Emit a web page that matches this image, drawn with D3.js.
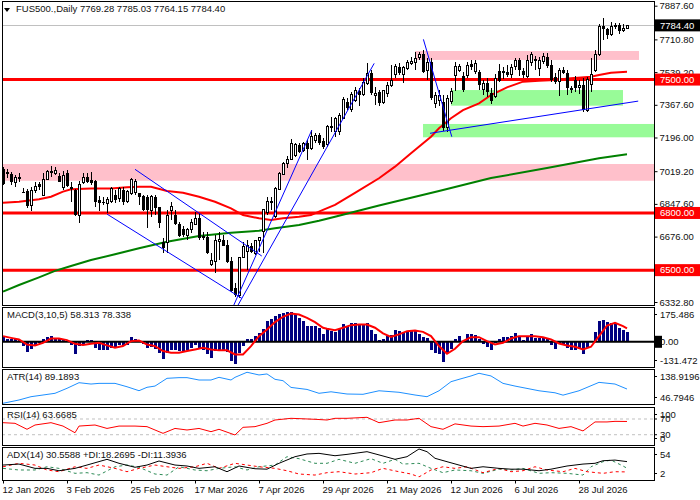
<!DOCTYPE html>
<html>
<head>
<meta charset="utf-8">
<script src="https://cdn.jsdelivr.net/npm/d3@7"></script>
<style>
  body { margin: 0; background: #fff; }
  svg { display: block; }
  text { font-family: "Liberation Sans", Arial, sans-serif; font-size: 9.5px; fill: #111; }
</style>
</head>
<body>
<svg width="700" height="500"></svg>
<script>
// ---- data (bar index 0 = 12 Jan 2026) ----
var opens = [7030,7016,7004,6958,6990,6912,6917,6838,6920,6950, 6894,6977,7020,7008,6994,6935,7009,6938,6920,6789,
  6958,6987,6973,6967,6868,6859,6850,6859,6894,6877, 6920,6859,6903,6906,6903,6889,6885,6815,6882,6829,
  6649,6644,6815,6789,6742,6716,6681,6711,6742,6773, 6681,6675,6527,6544,6649,6658,6632,6549,6405,6369,
  6567,6596,6627,6585,6654,6701,6801,6864,6780,6924, 7004,7057,7081,7104,7157,7130,7168,7139,7179,7209,
  7179,7157,7252,7230,7226,7297,7384,7344,7389,7440, 7424,7480,7533,7414,7436,7378,7428,7468,7524,7567,
  7524,7559,7585,7590,7616,7634,7545,7593,7372,7389, 7383,7246,7383,7520,7550,7519,7519,7582,7541,7541,
  7448,7483,7431,7410,7545,7545,7541,7529,7567,7602, 7545,7518,7588,7607,7559,7593,7617,7576,7515,7489,
  7550,7536,7454,7497,7459,7471,7340,7476,7550,7634, 7781,7763,7739,7786,7786,7760,7769.28];
var highs = [7041,7030,7016,6999,7008,6929,6925,6937,6964,6962, 7008,7025,7046,7040,7011,7022,7025,6964,6925,6969,
  7008,7008,7013,6975,6889,6885,6885,6938,6920,6938, 6938,6920,6983,6977,6906,6894,6894,6894,6894,6832,
  6668,6815,6856,6815,6752,6731,6721,6768,6807,6798, 6700,6701,6588,6684,6701,6684,6658,6571,6431,6571,
  6649,6658,6641,6658,6675,6821,6885,6885,6938,7015, 7067,7099,7186,7167,7165,7174,7183,7235,7219,7218,
  7193,7261,7304,7302,7324,7408,7403,7434,7461,7454, 7508,7586,7550,7463,7445,7445,7487,7576,7582,7587,
  7571,7602,7618,7644,7644,7655,7613,7613,7434,7445, 7419,7419,7455,7592,7582,7539,7592,7602,7602,7550,
  7497,7508,7456,7529,7582,7566,7576,7582,7613,7613, 7560,7629,7644,7623,7618,7639,7639,7602,7534,7560,
  7566,7550,7466,7518,7497,7508,7513,7613,7655,7791, 7823,7770,7802,7797,7797,7791,7785.03];
var lows = [6946,6983,6945,6937,6964,6903,6826,6812,6903,6920, 6894,6972,6990,6999,6964,6920,6937,6860,6784,6749,
  6952,6956,6946,6833,6810,6841,6798,6854,6850,6859, 6841,6852,6894,6894,6841,6810,6720,6780,6789,6720,
  6589,6589,6763,6737,6674,6674,6658,6695,6737,6658, 6658,6585,6520,6487,6553,6625,6536,6385,6361,6352,
  6562,6500,6590,6579,6597,6588,6789,6815,6773,6920, 6999,7036,7078,7094,7115,7120,7078,7130,7167,7157,
  7136,7146,7225,7200,7209,7292,7340,7330,7382,7361, 7414,7471,7419,7366,7361,7372,7408,7461,7508,7524,
  7482,7550,7576,7550,7602,7534,7500,7393,7350,7361, 7230,7225,7372,7440,7540,7434,7508,7550,7529,7445,
  7419,7408,7372,7403,7487,7503,7513,7508,7550,7518, 7508,7508,7571,7550,7518,7581,7561,7487,7477,7414,
  7530,7419,7429,7434,7424,7330,7330,7434,7539,7623, 7707,7712,7728,7765,7739,7750,7764.15];
var closes = [6952,7002,6964,6988,6977,6908,6838,6920,6941,6938, 6977,7015,7008,7025,6964,6999,6941,6926,6789,6951,
  6988,6964,6958,6859,6850,6850,6871,6930,6868,6930, 6859,6912,6977,6967,6882,6815,6815,6885,6824,6745,
  6614,6786,6836,6742,6681,6684,6711,6749,6773,6667, 6667,6588,6550,6654,6663,6627,6544,6392,6369,6567,
  6623,6627,6596,6653,6669,6819,6859,6851,6930,7008, 7060,7083,7165,7157,7121,7165,7134,7200,7209,7169,
  7144,7252,7256,7296,7314,7393,7349,7424,7440,7419, 7483,7533,7429,7429,7375,7440,7471,7494,7571,7536,
  7562,7588,7597,7611,7634,7541,7590,7401,7419,7419, 7246,7401,7435,7567,7567,7445,7576,7567,7585,7471,
  7480,7436,7389,7506,7494,7533,7524,7562,7602,7550, 7524,7599,7629,7599,7599,7620,7571,7497,7489,7545,
  7536,7454,7445,7454,7469,7340,7501,7524,7634,7781, 7763,7734,7781,7777,7756,7769,7784.40];

// moving averages read at selected bars
var maFastBars = [0,4,9,12,15,17,22,27,31,34,37,41,45,49,53,57,60,64,67,70,74,77,80,83,88,94,98,102,107,109,112,115,119,122,126,130,134,138,142,147,149,152,156];
var maFast = [6854,6859,6872,6885,6912,6924,6929,6929,6935,6938,6938,6915,6906,6885,6859,6824,6789,6772,6763,6772,6780,6789,6816,6842,6905,6982,7043,7113,7200,7244,7297,7340,7375,7419,7459,7489,7494,7498,7507,7515,7524,7536,7541];
var maSlowBars = [0,4,9,13,17,22,28,34,41,49,57,64,68,74,79,83,94,109,122,136,149,156];
var maSlow = [6387,6422,6462,6496,6522,6553,6583,6615,6649,6679,6696,6707,6720,6737,6759,6780,6839,6915,6983,7036,7087,7108];

// horizontal levels, zones (bar range / price range) and trend lines
var levels = [7500, 6800, 6500];
var zoneBars = [[-1,163],[103,159],[112,155],[105,163]];
var zonePrices = [[6969,7057],[7603,7650],[7363,7445],[7197,7267]];
var zoneKinds = ["resistance","resistance","support","support"];
var trendBars = [[33,64.7],[26,59.7],[57.5,77.2],[58.5,92.8],[105.1,112.2],[106.75,158.8]];
var trendPrices = [[7029,6574],[6794,6352],[6307,7235],[6307,7585],[7711,7200],[7218,7387]];

var priceTicks = [7887.6,7710.8,7539.2,7367.6,7196.0,7019.2,6847.6,6676.0,6504.4,6332.8];
var lastPrice = 7784.40;
var dateBars = [0,16,32,48,64,80,96,112,128,144];
var dateLabels = ["12 Jan 2026","3 Feb 2026","25 Feb 2026","17 Mar 2026","7 Apr 2026","29 Apr 2026","21 May 2026","12 Jun 2026","6 Jul 2026","28 Jul 2026"];

// MACD(3,10,5): histogram per bar, signal line read at selected bars
var macdHist = [33,17,14,14,10,-25,-58,-41,-21,-6, 14,27,33,21,14,17,6,-21,-74,-25,
  -10,12,12,-35,-50,-50,-45,-35,-35,-21, -25,-16,27,14,-4,-10,-35,-29,-41,-64,
  -103,-68,-45,-45,-54,-54,-50,-35,-21,-35, -45,-74,-93,-54,-45,-48,-60,-113,-131.5,-64,
  -25,14,14,33,52,72,120,134,153,165, 169,173,175.5,165,140,120,95,95,91,82,
  43,72,62,56,72,101,91,107,111,101, 101,111,68,43,10,19,33,37,68,62,
  56,62,62,62,43,29,23,-45,-64,-74, -118,-64,-41,19,33,0,43,43,37,14,
  -10,-29,-50,-6,19,27,27,33,49,33, 8,29,43,23,23,29,14,-21,-41,-10,
  -16,-35,-45,-45,-35,-74,-35,-2,56,120, 130,115,107,101,82,68,58.313];
var macdSigBars = [0,2,4,6,8,10,12,14,16,18,20,22,24,26,28,30,32,34,36,38,40,42,44,46,48,50,52,54,56,58,60,62,64,66,68,70,72,74,76,78,80,
  81,83,85,87,89,91,93,95,97,99,101,103,105,107,109,111,113,115,117,119,121,123,125,127,129,131,133,135,137,139,141,143,145,147,149,151,153,155,156];
var macdSig = [33,23,14,-16,-21,-6,19,19,10,-12,-19,-12,-6,-21,-35,-25,4,8,-16,-25,-54,-64,-64,-54,-45,-35,-45,-50,-50,-74,-74,-25,33,72,115,146,165,159,140,115,82,
  76,68,82,97,101,101,82,49,29,43,62,66,58,33,-25,-70,-41,4,27,27,4,-16,-6,19,33,33,33,27,14,-10,-21,-29,-45,-29,33,95,111,91,78.338];

var atrBars = [0,4,7,10,13,16,19,22,24,28,31,34,36,38,41,44,46,49,52,54,57,58,61,64,66,68,70,72,76,79,82,86,90,94,99,103,106,109,112,114,117,119,122,125,128,131,134,138,140,144,146,149,153,156];
var atr = [46.8,56.6,66.4,71.4,76.5,91.3,108,104,106,106,96,84.2,94.3,98,121,123,123,116,116,124,116,124,139,131,134,118,114,94,88,76.5,81,74.4,73.5,84,79.5,71.4,66.4,84,111,118,128,136,128,106,98,91,84,78,71,84,94,109,104,89.19];

var rsiBars = [0,3,6,8,12,15,18,19,23,26,29,33,36,40,43,46,49,52,54,58,60,63,66,68,72,74,78,81,83,86,91,94,98,101,104,107,110,113,117,120,124,128,130,133,136,139,142,145,148,151,153,156];
var rsi = [60.6,59,43.8,54.7,60.6,52,35,52,54.7,46,52,52,50.5,33.5,46,42,46,37.7,43.8,29.3,48.8,50.5,59,67.4,71.7,70.9,69.2,67.4,71.7,71.7,74.3,60.6,67.4,67.4,71.7,50.5,43.8,57.6,52,50.5,52,59,52,59,54.7,46,50.5,39.6,62.5,62.5,64,63.67];

var adxBars = [0,4,8,11,14,18,21,26,29,33,36,39,43,46,49,53,56,59,63,66,69,73,76,79,83,86,91,95,98,101,104,106,108,111,114,117,120,124,127,130,134,137,141,145,148,150,153,156];
var adx = [24.2,26,18,18,13.6,18,24.2,34.8,27.4,20,24.2,31.7,24.2,22.4,18,21,11.8,22.4,17.3,16.5,27.4,39.7,44.7,45.9,41.5,44,49,41,34.8,39.7,54,49,36.7,30.4,24.2,18,21,18,16.5,16.5,13.6,16.5,22.4,26,27.4,32.2,33.4,30.56];
var pdiBars = [0,4,8,11,14,18,21,24,28,31,34,38,41,44,48,51,54,58,61,64,68,71,74,78,81,84,88,92,95,98,100,104,107,110,113,117,120,124,127,130,134,137,141,145,147,150,152,155,156];
var pdi = [18,15,15,21,18,8.8,10,5.6,21,24.2,20,7.5,5.6,21,15,13.6,18,21,15,21,24.2,39.7,36,27.4,27.4,34.8,27.4,36,27.4,34.8,26,27.4,18,10,15,13.6,8.8,16.5,15,18,8.8,10,8.8,5.6,21,30.4,33.4,22.4,18.27];
var mdiBars = [0,4,8,11,14,18,21,24,28,31,34,38,41,44,48,51,54,58,61,64,68,71,74,78,81,84,88,92,95,99,102,104,107,110,113,116,120,124,127,130,133,136,140,143,146,150,153,156];
var mdi = [21,27.4,24.2,15,11.8,21,18,24.2,18,11.8,18,24.2,21,18,21,27.4,18,27.4,24.2,21,18,13.6,7.5,5.6,10,11.8,7.5,10,18,11.8,7.5,2.2,15,21,18,21,10,18,11.8,13.6,21,15,11.8,18,11.8,8.8,11.8,11.39];

// ---- layout ----
var svg = d3.select("svg"),
    left = 2, right = 654;
var panels = {
  main: {top: 1, bottom: 305},
  macd: {top: 307, bottom: 367},
  atr:  {top: 369, bottom: 404},
  rsi:  {top: 407, bottom: 445},
  adx:  {top: 447, bottom: 480}
};

var x = d3.scaleLinear().domain([0, 156]).range([3, 627]);
var y = d3.scaleLinear().domain([6332.8, 7887.6]).range([302, 5.7]);
var yMacd = d3.scaleLinear().domain([-147, 203]).range([367, 307]);
var yAtr = d3.scaleLinear().domain([44.7, 148.7]).range([404, 369]);
var yRsi = d3.scaleLinear().domain([0, 100]).range([446.5, 407.2]);
var yAdx = d3.scaleLinear().domain([-3.6, 57.7]).range([480, 447]);

var bars = d3.range(closes.length);
var px = function(i) { return Math.round(x(i)); };

var defs = svg.append("defs");
Object.keys(panels).forEach(function(k) {
  var p = panels[k];
  defs.append("clipPath").attr("id", "clip-" + k)
    .append("rect").attr("x", left).attr("y", p.top).attr("width", right - left).attr("height", p.bottom - p.top);
});

var main = svg.append("g").attr("clip-path", "url(#clip-main)");

// zones
var zoneFill = {resistance: "#ffc0cb", support: "#98fb98"};
main.selectAll("rect.zone").data(zoneBars).enter().append("rect")
    .attr("class", "zone")
    .attr("x", function(d) { return x(d[0]); })
    .attr("width", function(d) { return x(d[1]) - x(d[0]); })
    .attr("y", function(d, i) { return y(zonePrices[i][1]); })
    .attr("height", function(d, i) { return y(zonePrices[i][0]) - y(zonePrices[i][1]); })
    .attr("fill", function(d, i) { return zoneFill[zoneKinds[i]]; });

// bid line
main.append("line")
    .attr("x1", left).attr("x2", right)
    .attr("y1", Math.round(y(lastPrice)) + 0.5).attr("y2", Math.round(y(lastPrice)) + 0.5)
    .attr("stroke", "#c0c0c0");

// levels
main.selectAll("line.level").data(levels).enter().append("line")
    .attr("x1", left).attr("x2", right)
    .attr("y1", function(d) { return y(d); }).attr("y2", function(d) { return y(d); })
    .attr("stroke", "#ff0000").attr("stroke-width", 3);

// moving averages
var maLine = function(bs) {
  return d3.line().x(function(d, i) { return x(bs[i]); }).y(function(d) { return y(d); });
};
main.append("path").datum(maSlow)
    .attr("fill", "none").attr("stroke", "#008000").attr("stroke-width", 2)
    .attr("d", maLine(maSlowBars));
main.append("path").datum(maFast)
    .attr("fill", "none").attr("stroke", "#ff0000").attr("stroke-width", 2)
    .attr("d", maLine(maFastBars));

// candles
var candle = main.selectAll("g.candle").data(bars).enter().append("g")
    .attr("shape-rendering", "crispEdges");
candle.append("line")
    .attr("x1", function(i) { return px(i) + 0.5; }).attr("x2", function(i) { return px(i) + 0.5; })
    .attr("y1", function(i) { return y(highs[i]); }).attr("y2", function(i) { return y(lows[i]); })
    .attr("stroke", "#000");
candle.append("rect")
    .attr("x", function(i) { return closes[i] >= opens[i] ? px(i) - 0.5 : px(i) - 1; })
    .attr("width", function(i) { return closes[i] >= opens[i] ? 2 : 3; })
    .attr("y", function(i) { return y(Math.max(opens[i], closes[i])); })
    .attr("height", function(i) { return Math.max(1, Math.abs(y(opens[i]) - y(closes[i]))); })
    .attr("fill", function(i) { return closes[i] >= opens[i] ? "#fff" : "#000"; })
    .attr("stroke", function(i) { return closes[i] >= opens[i] ? "#000" : "none"; });

// trend lines
main.selectAll("line.trend").data(trendBars).enter().append("line")
    .attr("x1", function(d) { return x(d[0]); }).attr("x2", function(d) { return x(d[1]); })
    .attr("y1", function(d, i) { return y(trendPrices[i][0]); })
    .attr("y2", function(d, i) { return y(trendPrices[i][1]); })
    .attr("stroke", "#0000ff").attr("stroke-width", 1);

// ---- MACD ----
var gm = svg.append("g").attr("clip-path", "url(#clip-macd)");
gm.selectAll("rect").data(macdHist).enter().append("rect")
    .attr("shape-rendering", "crispEdges")
    .attr("x", function(d, i) { return px(i) - 1; })
    .attr("width", 3)
    .attr("y", function(d) { return yMacd(Math.max(0, d)); })
    .attr("height", function(d) { return Math.abs(yMacd(d) - yMacd(0)); })
    .attr("fill", "#000080");
gm.append("line")
    .attr("x1", left).attr("x2", right).attr("y1", yMacd(0)).attr("y2", yMacd(0))
    .attr("stroke", "#000").attr("stroke-width", 2);
gm.append("path").datum(macdSig)
    .attr("fill", "none").attr("stroke", "#ff0000").attr("stroke-width", 2)
    .attr("d", d3.line().x(function(d, i) { return x(macdSigBars[i]); }).y(function(d) { return yMacd(d); }));

// ---- ATR ----
var ga = svg.append("g").attr("clip-path", "url(#clip-atr)");
ga.append("path").datum(atr)
    .attr("fill", "none").attr("stroke", "#1e90ff").attr("stroke-width", 1)
    .attr("d", d3.line().x(function(d, i) { return x(atrBars[i]); }).y(function(d) { return yAtr(d); }));

// ---- RSI ----
var gr = svg.append("g").attr("clip-path", "url(#clip-rsi)");
gr.selectAll("line").data([70, 30]).enter().append("line")
    .attr("x1", left).attr("x2", right)
    .attr("y1", function(d) { return yRsi(d); }).attr("y2", function(d) { return yRsi(d); })
    .attr("stroke", "#c0c0c0").attr("stroke-dasharray", "3,3");
gr.append("path").datum(rsi)
    .attr("fill", "none").attr("stroke", "#ff0000").attr("stroke-width", 1)
    .attr("d", d3.line().x(function(d, i) { return x(rsiBars[i]); }).y(function(d) { return yRsi(d); }));

// ---- ADX ----
var gx = svg.append("g").attr("clip-path", "url(#clip-adx)");
var adxLine = function(bs) {
  return d3.line().x(function(d, i) { return x(bs[i]); }).y(function(d) { return yAdx(d); });
};
gx.append("path").datum(pdi)
    .attr("fill", "none").attr("stroke", "#2e8b57").attr("stroke-dasharray", "3,3")
    .attr("d", adxLine(pdiBars));
gx.append("path").datum(mdi)
    .attr("fill", "none").attr("stroke", "#ff0000").attr("stroke-dasharray", "3,3")
    .attr("d", adxLine(mdiBars));
gx.append("path").datum(adx)
    .attr("fill", "none").attr("stroke", "#000").attr("stroke-width", 1)
    .attr("d", adxLine(adxBars));

// ---- frames ----
Object.keys(panels).forEach(function(k) {
  var p = panels[k];
  svg.append("rect")
      .attr("x", left + 0.5).attr("y", p.top + 0.5)
      .attr("width", right - left).attr("height", p.bottom - p.top)
      .attr("fill", "none").attr("stroke", "#000").attr("shape-rendering", "crispEdges");
});

// ---- price axis ----
var ya = svg.append("g")
    .attr("transform", "translate(" + (right + 0.5) + ",0)")
    .call(d3.axisRight(y).tickValues(priceTicks).tickSize(3).tickFormat(d3.format(".2f")));
ya.select(".domain").remove();
ya.selectAll("text").attr("font-family", null).attr("font-size", null).attr("x", 5);

var tag = function(value, bg) {
  var g = svg.append("g").attr("transform", "translate(0," + y(value) + ")");
  g.append("rect").attr("x", 655).attr("y", -6).attr("width", 45).attr("height", 12).attr("fill", bg);
  g.append("text").attr("x", 660).attr("dy", "0.35em").style("fill", "#fff").text(value.toFixed(2));
};
levels.forEach(function(v) { tag(v, "#ff0000"); });
tag(lastPrice, "#000");

// ---- date axis ----
var xa = svg.append("g")
    .attr("transform", "translate(0," + (panels.adx.bottom + 0.5) + ")")
    .call(d3.axisBottom(x).tickValues(dateBars).tickSize(3).tickFormat(function(d, i) { return dateLabels[i]; }));
xa.select(".domain").remove();
xa.selectAll("text").attr("font-family", null).attr("font-size", null).attr("text-anchor", "start").attr("x", -1);

// ---- indicator scale labels ----
var sideLabel = function(p, scale, value, text) {
  var yy = Math.max(p.top + 7.5, Math.min(p.bottom - 6.5, scale(value)));
  svg.append("line").attr("x1", right).attr("x2", right + 3).attr("y1", yy).attr("y2", yy).attr("stroke", "#000");
  return svg.append("text").attr("x", 660).attr("y", yy).attr("dy", "0.35em").text(text);
};
sideLabel(panels.macd, yMacd, 175.486, "175.486");
svg.append("rect").attr("x", 655).attr("y", yMacd(0) - 6).attr("width", 7).attr("height", 12).attr("fill", "#000");
sideLabel(panels.macd, yMacd, 0, "0.00");
sideLabel(panels.macd, yMacd, -131.472, "-131.472");
sideLabel(panels.atr, yAtr, 138.9196, "138.9196");
sideLabel(panels.atr, yAtr, 46.7946, "46.7946");
sideLabel(panels.rsi, yRsi, 100, "100");
sideLabel(panels.rsi, yRsi, 70, "70");
sideLabel(panels.rsi, yRsi, 30, "30");
sideLabel(panels.rsi, yRsi, 0, "0");
sideLabel(panels.adx, yAdx, 54, "54");
sideLabel(panels.adx, yAdx, 2, "2");

// ---- titles ----
svg.append("path").attr("d", "M4,8 L10,8 L7,12 Z").attr("fill", "#000");
svg.append("text").attr("x", 16).attr("y", 11).attr("dy", "0.1em")
    .text("FUS500.,Daily  7769.28 7785.03 7764.15 7784.40");
var titles = [
  [panels.macd, "MACD(3,10,5) 58.313 78.338"],
  [panels.atr, "ATR(14) 89.1893"],
  [panels.rsi, "RSI(14) 63.6685"],
  [panels.adx, "ADX(14) 30.5588 +DI:18.2695 -DI:11.3936"]
];
titles.forEach(function(t) {
  svg.append("text").attr("x", 7).attr("y", t[0].top + 10).attr("dy", "0.1em").text(t[1]);
});
</script>
</body>
</html>
